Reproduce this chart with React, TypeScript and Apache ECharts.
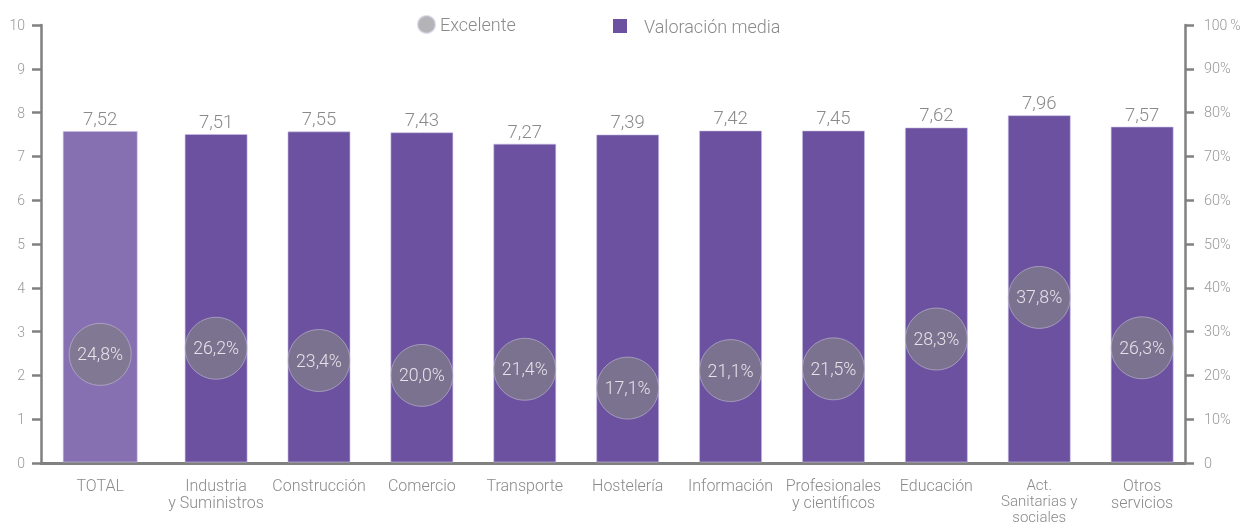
import React, { useEffect, useRef } from "react";
import * as echarts from "echarts";

const categories = [
  "TOTAL",
  "Industria\ny Suministros",
  "Construcción",
  "Comercio",
  "Transporte",
  "Hostelería",
  "Información",
  "Profesionales\ny científicos",
  "Educación",
  "Act.\nSanitarias y\nsociales",
  "Otros\nservicios",
];
// bar heights as drawn
const valoracionBars = [7.57, 7.5, 7.56, 7.54, 7.28, 7.49, 7.58, 7.58, 7.65, 7.93, 7.67];
// value labels printed above the bars
const valoracionLabels = ["7,52", "7,51", "7,55", "7,43", "7,27", "7,39", "7,42", "7,45", "7,62", "7,96", "7,57"];
const excelente = [24.8, 26.2, 23.4, 20.0, 21.4, 17.1, 21.1, 21.5, 28.3, 37.8, 26.3];
const leftTicks = { min: 0, max: 10, interval: 1 };
const rightTicks = { min: 0, max: 100, interval: 10 };

const FONT = "Roboto, 'Liberation Sans', Arial, sans-serif";
const TEXT = "#8a8a8a";
const AXIS = "#808080";
const BAR = "#6b519f";
const BAR_TOTAL = "#8670b1";
const CIRCLE = "#807a8c";
const TOTAL_SHIFT = -13;

export default function App() {
  const ref = useRef<HTMLDivElement>(null);
  useEffect(() => {
    if (!ref.current) return;
    const chart = echarts.init(ref.current, null, { renderer: "svg" });
    const grid0 = { left: 41, right: 58, top: 25, bottom: 64, containLabel: false, outerBoundsMode: "none" };
    const grid1 = { left: 61.75, right: 49.4, top: 25, bottom: 64, containLabel: false, outerBoundsMode: "none" };
    const catLabel = { color: TEXT, fontSize: 16, lineHeight: 17, fontFamily: FONT, fontWeight: 300 };
    const option: any = {
      animation: false,
      textStyle: { fontFamily: FONT, fontWeight: 300 },
      legend: [
        {
          data: [{ name: "Excelente", icon: "circle", itemStyle: { color: "#a0a0a6" } }],
          left: 412,
          top: 10,
          itemWidth: 17,
          itemHeight: 17,
          textStyle: { color: TEXT, fontSize: 18, fontFamily: FONT, fontWeight: 300 },
          selectedMode: false,
        },
        {
          data: [{ name: "Valoración media", icon: "rect", itemStyle: { color: BAR } }],
          left: 608,
          top: 12,
          itemWidth: 14,
          itemHeight: 14,
          textStyle: { color: TEXT, fontSize: 18, fontFamily: FONT, fontWeight: 300, padding: [0, 0, 0, 12] },
          selectedMode: false,
        },
      ],
      grid: [grid0, grid1],
      xAxis: [
        {
          type: "category",
          gridIndex: 0,
          data: categories,
          axisLine: { show: true, lineStyle: { color: AXIS, width: 3 } },
          axisTick: { show: false },
          axisLabel: { show: false },
        },
        {
          type: "category",
          gridIndex: 1,
          data: categories,
          axisLine: { show: false },
          axisTick: { show: false },
          axisLabel: {
            interval: 0,
            margin: 14,
            ...catLabel,
            hideOverlap: false,
            formatter: (v: string, i: number) => {
              if (i === 0) return `{tot|${v}}`;
              if (v.split("\n").length > 2) return `{three|${v}}`;
              return v;
            },
            rich: {
              tot: { ...catLabel, padding: [0, -2 * TOTAL_SHIFT, 0, 0] },
              three: { ...catLabel, fontSize: 15, lineHeight: 16 },
            },
          },
        },
      ],
      yAxis: [
        {
          type: "value",
          gridIndex: 0,
          position: "left",
          ...leftTicks,
          axisLine: { show: true, lineStyle: { color: AXIS, width: 2.5 } },
          axisTick: { show: true, length: 9, lineStyle: { color: AXIS, width: 2.5 } },
          splitLine: { show: false },
          axisLabel: { margin: 16, color: "#999", fontSize: 14, fontFamily: FONT, fontWeight: 300 },
        },
        {
          type: "value",
          gridIndex: 0,
          position: "right",
          ...rightTicks,
          axisLine: { show: true, lineStyle: { color: AXIS, width: 2.5 } },
          axisTick: { show: true, length: 9, lineStyle: { color: AXIS, width: 2.5 } },
          splitLine: { show: false },
          axisLabel: {
            margin: 19,
            color: "#999",
            fontSize: 14.5,
            fontFamily: FONT,
            fontWeight: 300,
            formatter: (v: number) => (v === 0 ? "0" : v === 100 ? "{h|100\u2009%}" : `${v}%`),
            rich: { h: { color: "#999", fontSize: 14, fontFamily: FONT, fontWeight: 300 } },
          },
        },
        { type: "value", gridIndex: 1, show: false, ...leftTicks },
        { type: "value", gridIndex: 1, show: false, position: "right", ...rightTicks },
      ],
      series: [
        {
          name: "Valoración media",
          type: "custom",
          xAxisIndex: 1,
          yAxisIndex: 2,
          data: valoracionBars.map((v, i) => [i, v]),
          encode: { x: 0, y: 1 },
          itemStyle: { color: BAR },
          renderItem: (params: any, api: any) => {
            const idx = api.value(0);
            const val = api.value(1);
            const top = api.coord([idx, val]);
            const base = api.coord([idx, 0]);
            const isTotal = idx === 0;
            const w = isTotal ? 74 : 62;
            const cx = top[0] + (isTotal ? TOTAL_SHIFT : 0);
            return {
              type: "group",
              children: [
                {
                  type: "rect",
                  shape: { x: cx - w / 2, y: top[1], width: w, height: base[1] - top[1] - 1 },
                  style: { fill: isTotal ? BAR_TOTAL : BAR, stroke: "rgba(200,190,230,0.6)", lineWidth: 1 },
                },
                {
                  type: "text",
                  x: cx,
                  y: top[1] - 3,
                  style: {
                    text: valoracionLabels[params.dataIndex],
                    align: "center",
                    verticalAlign: "bottom",
                    fill: TEXT,
                    fontSize: 18.5,
                    fontFamily: FONT,
                    fontWeight: 300,
                  },
                },
              ],
            };
          },
        },
        {
          name: "Excelente",
          type: "scatter",
          xAxisIndex: 1,
          yAxisIndex: 3,
          symbol: "circle",
          symbolSize: 62,
          data: excelente.map((v, i) => (i === 0 ? { value: v, symbolOffset: [TOTAL_SHIFT, 0] } : v)),
          itemStyle: { color: CIRCLE, borderColor: "rgba(200,195,215,0.7)", borderWidth: 1 },
          label: {
            show: true,
            position: "inside",
            color: "#ffffff",
            fontSize: 17.7,
            fontFamily: FONT,
            fontWeight: 300,
            formatter: (p: any) => `${Number(p.value).toFixed(1).replace(".", ",")}%`,
          },
          z: 5,
        },
      ],
    };
    chart.setOption(option);
    return () => chart.dispose();
  }, []);
  return (
    <div
      ref={ref}
      style={{ position: "fixed", left: 0, top: 0, width: 1243, height: 527, overflow: "hidden" }}
    />
  );
}
